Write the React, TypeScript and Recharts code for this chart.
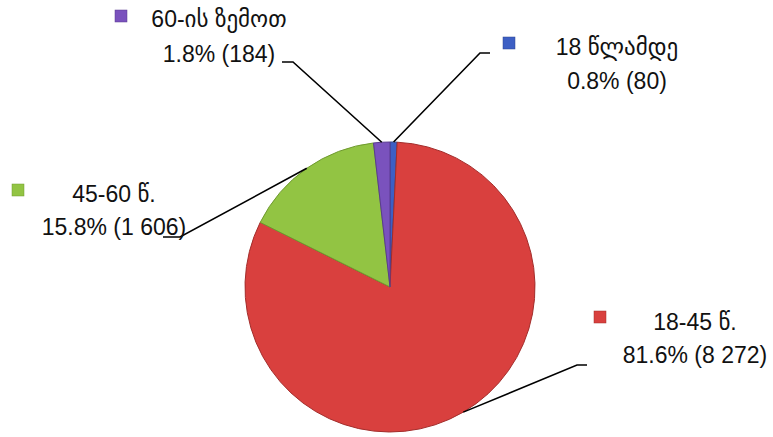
import { PieChart, Pie, Cell } from 'recharts';

const groups = ['18 წლამდე', '18-45 წ.', '45-60 წ.', '60-ის ზემოთ'];
const counts = [80, 8272, 1606, 184];
const COLORS = ['#3d5fc4', '#d9403e', '#92c443', '#7a52bd'];
const STROKES = ['#2c4590', '#a32d2b', '#6f9a2f', '#5a3b8f'];

// label boxes: elbow/end of leader, legend key, text centre and baselines
const LAYOUT = [
  { elbow: [480, 53], end: [490, 53], key: [503, 37], tx: 617, ty: [55, 89] },
  { elbow: [577, 365], end: [587, 365], key: [594, 311], tx: 695, ty: [330, 363] },
  { elbow: [180, 237], end: [163, 237], key: [12, 184], tx: 114, ty: [202, 235] },
  { elbow: [293, 62], end: [282, 62], key: [115, 10], tx: 219, ty: [27, 62] },
];

const total = counts.reduce((a, b) => a + b, 0);
const data = groups.map((name, i) => ({ name, value: counts[i] }));
const RADIAN = Math.PI / 180;
const FONT = "'Liberation Sans', 'DejaVu Sans', sans-serif";

const fmt = (v: number) => String(v).replace(/\B(?=(\d{3})+(?!\d))/g, ' ');

const renderLabel = (p: any) => {
  const { cx, cy, midAngle, outerRadius, index, value, name } = p;
  const L = LAYOUT[index];
  const sx = cx + outerRadius * Math.cos(-midAngle * RADIAN);
  const sy = cy + outerRadius * Math.sin(-midAngle * RADIAN);
  const pct = ((value / total) * 100).toFixed(1);
  return (
    <g key={`lbl-${index}`}>
      <polyline
        points={`${sx},${sy} ${L.elbow[0]},${L.elbow[1]} ${L.end[0]},${L.end[1]}`}
        fill="none"
        stroke="#000"
        strokeWidth={1.6}
      />
      <rect x={L.key[0]} y={L.key[1]} width={12} height={12} fill={COLORS[index]} stroke={STROKES[index]} strokeWidth={0.5} />
      <text x={L.tx} y={L.ty[0]} textAnchor="middle" fill="#111" fontSize={23} fontFamily={FONT}>
        {name}
      </text>
      <text x={L.tx} y={L.ty[1]} textAnchor="middle" fill="#111" fontSize={23} fontFamily={FONT}>
        {`${pct}% (${fmt(value)})`}
      </text>
    </g>
  );
};

export default function App() {
  return (
    <div style={{ position: 'absolute', left: 0, top: 0, width: 773, height: 437, background: '#fff' }}>
      <PieChart width={773} height={437} margin={{ top: 0, right: 0, bottom: 0, left: 0 }}>
        <Pie
          data={data}
          dataKey="value"
          nameKey="name"
          cx={390}
          cy={287}
          outerRadius={145}
          startAngle={90}
          endAngle={-270}
          label={renderLabel}
          labelLine={false}
          isAnimationActive={false}
        >
          {data.map((_, i) => (
            <Cell key={i} fill={COLORS[i]} stroke={STROKES[i]} strokeWidth={1} />
          ))}
        </Pie>
      </PieChart>
    </div>
  );
}
